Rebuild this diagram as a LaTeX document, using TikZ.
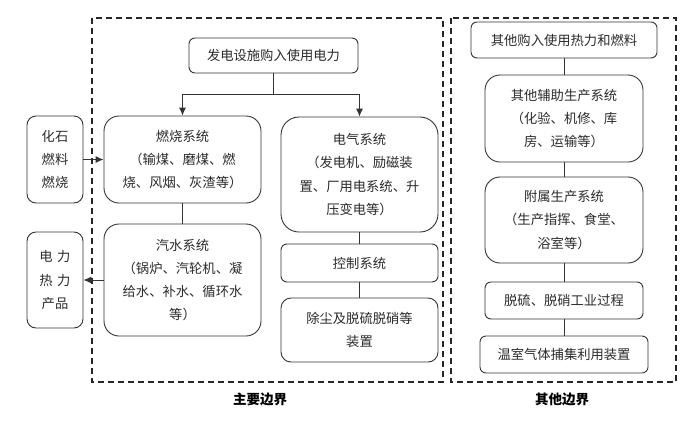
\documentclass[tikz,border=0pt]{standalone}
\usepackage{fontspec}
\setmainfont{Noto Sans CJK SC}
\usetikzlibrary{arrows.meta}
\definecolor{txt}{HTML}{2A2A2A}
\definecolor{ln}{HTML}{333333}
\tikzset{
  box/.style={draw=ln, line width=0.9pt, align=center, text=txt, inner sep=0pt,
    font=\fontsize{13.3}{23.3}\selectfont},
  sbox/.style={box, rounded corners=6pt},
  bbox/.style={box, rounded corners=15pt},
  conn/.style={draw=ln, line width=0.9pt},
  arr/.style={conn, -{Latex[length=8pt,width=7pt]}},
  bound/.style={draw=black!85, line width=1.3pt, dash pattern=on 6pt off 4pt},
  blabel/.style={font=\fontsize{13.5}{15}\selectfont\bfseries, text=black}
}
\begin{document}
\begin{tikzpicture}[x=1pt,y=-1pt]
\useasboundingbox (0,0) rectangle (700,426);
% boundaries
\draw[bound] (92,18) rectangle (443,382);
\draw[bound] (451,18) rectangle (676,382);
\node[blabel] (lmain) at (260,399) {主要边界};
\node[blabel] (lother) at (562,399) {其他边界};
% main column
\node[sbox, minimum width=169pt, minimum height=35pt] (top) at (273.5,55.5) {发电设施购入使用电力};
\node[bbox, minimum width=157pt, minimum height=87pt] (rs) at (182.5,159.5) {燃烧系统\\（输煤、磨煤、燃\\烧、风烟、灰渣等）};
\node[sbox, rounded corners=9pt, minimum width=56pt, minimum height=87pt] (fossil) at (55,159.5) {化石\\燃料\\燃烧};
\node[bbox, minimum width=157pt, minimum height=112pt] (qs) at (182.5,280) {汽水系统\\（锅炉、汽轮机、凝\\给水、补水、循环水\\等）};
\node[sbox, rounded corners=9pt, minimum width=56pt, minimum height=96pt] (prod) at (55,280) {电\,\,力\\热\,\,力\\产品};
\node[bbox, rounded corners=18pt, minimum width=157pt, minimum height=115pt] (dq) at (359.5,174.5) {电气系统\\（发电机、励磁装\\置、厂用电系统、升\\压变电等）};
\node[sbox, minimum width=157pt, minimum height=38pt] (kz) at (359.5,263) {控制系统};
\node[sbox, rounded corners=10pt, minimum width=157pt, minimum height=64pt] (cc) at (359.5,330) {除尘及脱硫脱硝等\\装置};
% other column
\node[sbox, minimum width=186pt, minimum height=36pt] (o1) at (564,40) {其他购入使用热力和燃料};
\node[bbox, minimum width=158pt, minimum height=87pt] (o2) at (564,118.5) {其他辅助生产系统\\（化验、机修、库\\房、运输等）};
\node[bbox, minimum width=158pt, minimum height=86pt] (o3) at (564,220) {附属生产系统\\（生产指挥、食堂、\\浴室等）};
\node[sbox, minimum width=158pt, minimum height=37pt] (o4) at (564,300.5) {脱硫、脱硝工业过程};
\node[sbox, minimum width=168pt, minimum height=37pt] (o5) at (564,354.5) {温室气体捕集利用装置};
% connectors
\coordinate (br) at (top.south |- 0,94);
\draw[conn] (top.south) -- (br);
\draw[arr] (br) -| (rs.north);
\draw[arr] (br) -| (dq.north);
\draw[arr] (fossil.east) -- (rs.west);
\draw[conn] (rs.south) -- (qs.north);
\draw[arr] (qs.west) -- (prod.east);
\draw[conn] (dq.south) -- (kz.north);
\draw[conn] (kz.south) -- (cc.north);
\draw[conn] (o1.south) -- (o2.north);
\draw[conn] (o2.south) -- (o3.north);
\draw[conn] (o3.south) -- (o4.north);
\draw[conn] (o4.south) -- (o5.north);
\end{tikzpicture}
\end{document}
